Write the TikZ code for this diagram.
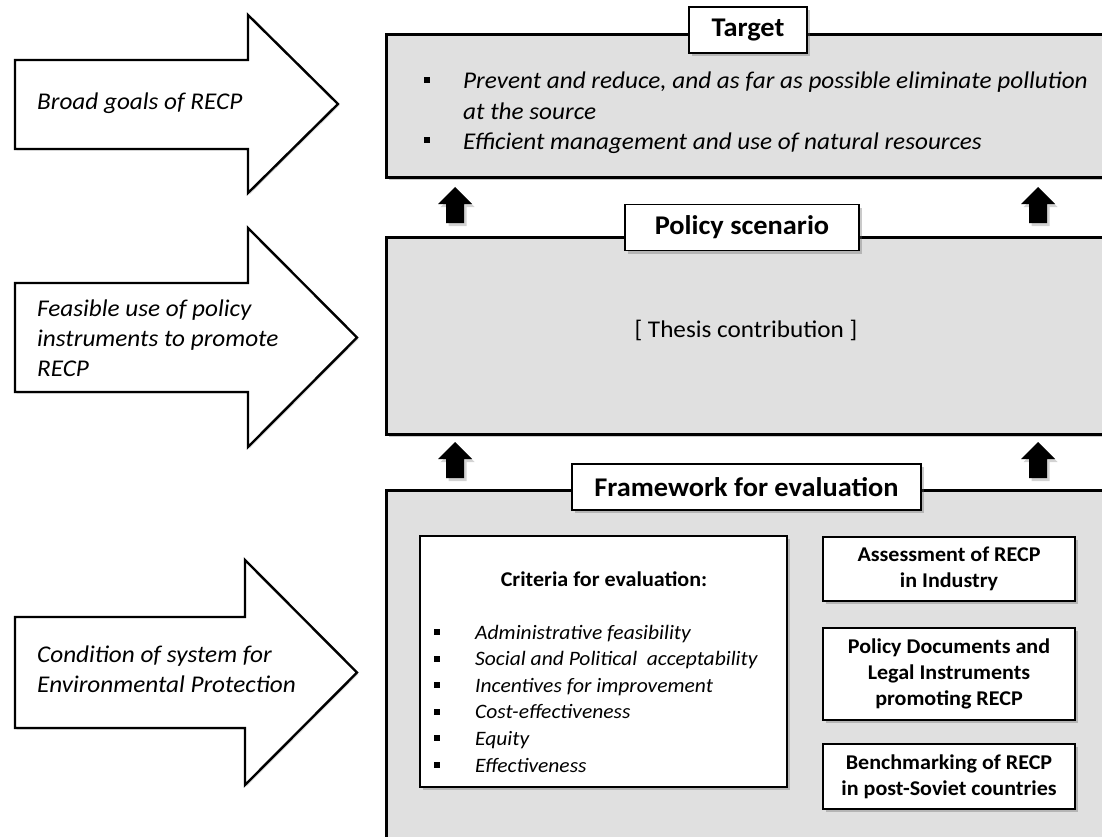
\documentclass[tikz,border=0pt]{standalone}
\usepackage{fontspec}
\setmainfont{Carlito}[FakeStretch=1.05]
\usetikzlibrary{shadows}

\definecolor{panelgray}{RGB}{224,224,224}

\tikzset{
  softshadow/.style={drop shadow={shadow xshift=2.5pt, shadow yshift=-3pt, opacity=0.35, fill=black!60}},
  panel/.style={draw=black, line width=2.6pt, fill=panelgray, inner sep=0pt, anchor=north west, softshadow},
  tag/.style={draw=black, line width=1.8pt, fill=white, inner sep=0pt,
    font=\bfseries\fontsize{27}{32}\selectfont, minimum height=46pt, softshadow},
  srcbox/.style={draw=black, line width=1.8pt, fill=white, inner sep=0pt, align=center,
    font=\bfseries\fontsize{21}{26}\selectfont, minimum width=252pt, softshadow},
  goal/.style={draw=black, line width=2.4pt, fill=white, line join=miter,
    drop shadow={shadow xshift=1.5pt, shadow yshift=-1.5pt, opacity=0.3}},
  goaltext/.style={font=\itshape\fontsize{24}{30}\selectfont, anchor=base west, inner sep=0pt},
  itemtext/.style={font=\itshape\fontsize{20.5}{26}\selectfont, anchor=base west, inner sep=0pt},
  bulletsq/.style={fill=black, minimum size=6pt, inner sep=0pt},
  pics/blockup/.style={code={
    \fill[black, drop shadow={shadow xshift=2.5pt, shadow yshift=-3pt, opacity=0.35}]
      (0,0) -- (17,17) -- (9,17) -- (9,36) -- (-9,36) -- (-9,17) -- (-17,17) -- cycle;
  }},
}

\begin{document}
\begin{tikzpicture}[x=1pt, y=-1pt]
\clip (0,0) rectangle (1102,837);

% ---- goal arrows on the left ----
\draw[goal] (15,60) -- (248,60) -- (248,15) -- (338,104) -- (248,193) -- (248,149) -- (15,149) -- cycle;
\draw[goal] (15,283) -- (248,283) -- (248,228) -- (357,337.5) -- (248,447) -- (248,392) -- (15,392) -- cycle;
\draw[goal] (15,617) -- (245,617) -- (245,560) -- (357,672.5) -- (245,785) -- (245,728) -- (15,728) -- cycle;

\node[goaltext] (goalA) at (37,110) {Broad goals of RECP};
\node[goaltext] (goalB1) at (37,316) {Feasible use of policy};
\node[goaltext] (goalB2) at (37,346) {instruments to promote};
\node[goaltext] (goalB3) at (37,376) {RECP};
\node[goaltext] (goalC1) at (37,662) {Condition of system for};
\node[goaltext] (goalC2) at (37,692) {Environmental Protection};

% ---- three stacked panels ----
\node[panel, minimum width=760pt, minimum height=143pt] (target) at (385,33) {};
\node[panel, minimum width=760pt, minimum height=197pt] (policy) at (385,236) {};
\node[panel, minimum width=760pt, minimum height=380pt] (frame) at (385,489) {};

% block arrows between the panels
\pic at (455,187) {blockup};
\pic at (1038,187) {blockup};
\pic at (455,442) {blockup};
\pic at (1038,442) {blockup};

% ---- panel titles ----
\node[tag, minimum width=118pt] (targettag) at (748,30) {Target};
\node[tag, minimum width=234pt] (policytag) at (742,227.5) {Policy scenario};
\node[tag, minimum width=349pt] (frametag) at (746.5,487) {Framework for evaluation};

% ---- target contents ----
\node[bulletsq] (tb1) at (427,80) {};
\node[bulletsq] (tb2) at (427,140) {};
\node[goaltext] (t1a) at (463,89) {Prevent and reduce, and as far as possible eliminate pollution};
\node[goaltext] (t1b) at (463,120) {at the source};
\node[goaltext] (t2) at (463,150) {Efficient management and use of natural resources};

% ---- policy scenario contents ----
\node[font=\fontsize{24}{28}\selectfont, inner sep=0pt] (thesis) at (746,330) {[ Thesis contribution ]};

% ---- framework contents ----
\node[draw=black, line width=1.8pt, fill=white, minimum width=367pt, minimum height=251pt,
      softshadow] (criteria) at (603.5,661.5) {};
\node[font=\bfseries\fontsize{21}{24}\selectfont, anchor=base, inner sep=0pt] (crittitle) at (604,586) {Criteria for evaluation:};
\foreach \t [count=\i from 0] in {Administrative feasibility, Social and Political\ \ acceptability,
    Incentives for improvement, Cost-effectiveness, Equity, Effectiveness} {
  \node[bulletsq] (cb\i) at (437,632+26.6*\i) {};
  \node[itemtext] (ci\i) at (475,639+26.6*\i) {\t};
}

\node[srcbox, minimum height=64pt] (assess) at (949,569) {Assessment of RECP\\in Industry};
\node[srcbox, minimum height=92pt] (docs) at (949,674) {Policy Documents and\\Legal Instruments\\promoting RECP};
\node[srcbox, minimum height=65pt] (bench) at (949,776.5) {Benchmarking of RECP\\in post-Soviet countries};
\end{tikzpicture}
\end{document}
